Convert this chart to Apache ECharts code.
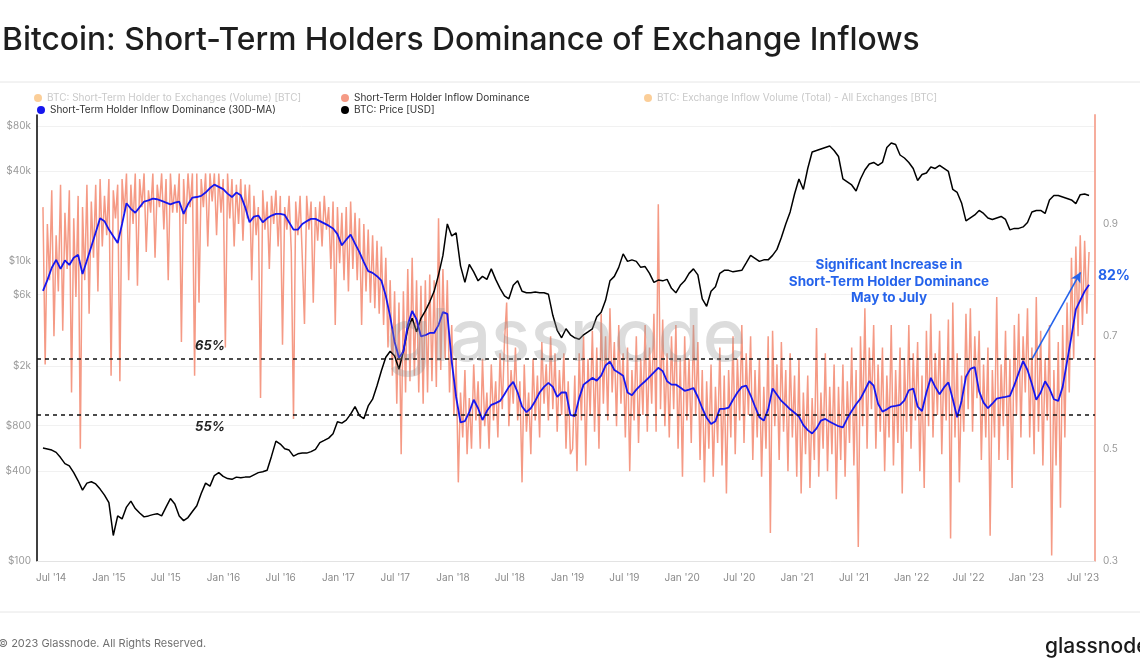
<!DOCTYPE html>
<html><head><meta charset="utf-8">
<script src="https://cdn.jsdelivr.net/npm/echarts@6/dist/echarts.min.js"></script>
<style>html,body{margin:0;padding:0;background:#fff}#c{width:1140px;height:671px}</style>
</head><body><div id="c"></div>
<script>
// ---------- DATA ----------
const startDate = '2014-06-05';      // first observation
const priceStepDays = 14;            // BTC price & 30D-MA sampling
const domStepDays = 7;               // raw dominance sampling

const priceUSD = [
568,560,550,531,490,447,431,389,343,297,
331,338,327,302,275,245,148,200,191,229,
251,224,209,197,200,204,207,200,229,261,
240,200,186,195,214,234,282,331,316,372,
389,367,355,351,363,359,363,363,376,389,
394,403,501,631,603,562,550,501,519,525,
525,537,556,617,638,661,708,851,832,871,
955,1072,933,891,1084,1202,1479,1862,2291,2512,
2344,1905,2512,3548,4169,3388,4169,4677,5370,6310,
8128,10965,17783,14791,15488,9333,7244,9550,8511,7413,
7943,7586,8913,7586,6607,5888,5623,6918,7413,6310,
6166,6166,6237,6166,6166,6026,4365,3467,3090,3548,
3236,3090,3020,3236,3388,3548,4266,4571,5495,7413,
7943,9120,11220,10000,10233,10000,9120,9226,8318,7244,
7499,7413,7586,6607,6166,6918,7413,8318,8913,8128,
5623,5012,6310,6761,8318,8710,8710,8511,8610,8710,
9772,10965,10471,10000,10233,10233,10965,12023,14454,17783,
21380,28184,35481,30200,41687,53703,54954,56234,57544,58884,
54954,50119,35481,33884,32359,29512,35481,40738,44668,45709,
43652,45709,57544,61660,60256,51286,48978,45709,41687,34674,
38019,38905,42658,41687,43652,41687,39811,30200,28840,24547,
18621,19498,20417,21878,20893,19498,19055,19498,19953,19055,
16218,16596,16596,16982,18197,21380,21878,21878,20893,25704,
27542,27542,26915,26303,25704,24266,27861,28184,27542
];

const sthDominance30d = [
0.781,0.80,0.822,0.836,0.82,0.835,0.827,0.84,0.845,0.811,
0.835,0.86,0.885,0.91,0.905,0.89,0.878,0.866,0.90,0.937,
0.927,0.92,0.93,0.94,0.942,0.945,0.944,0.941,0.938,0.935,
0.938,0.94,0.918,0.935,0.947,0.948,0.95,0.956,0.964,0.97,
0.966,0.962,0.954,0.948,0.956,0.951,0.93,0.903,0.913,0.915,
0.903,0.91,0.915,0.918,0.918,0.916,0.903,0.89,0.89,0.90,
0.905,0.909,0.909,0.905,0.901,0.897,0.892,0.882,0.862,0.872,
0.881,0.865,0.85,0.832,0.816,0.813,0.807,0.799,0.772,0.735,
0.69,0.662,0.673,0.72,0.745,0.73,0.70,0.702,0.706,0.706,
0.72,0.743,0.74,0.655,0.592,0.547,0.549,0.565,0.587,0.572,
0.551,0.567,0.578,0.581,0.585,0.597,0.61,0.619,0.60,0.575,
0.565,0.572,0.585,0.60,0.61,0.617,0.61,0.592,0.60,0.60,
0.56,0.558,0.59,0.614,0.62,0.626,0.621,0.63,0.648,0.655,
0.64,0.635,0.63,0.60,0.595,0.605,0.613,0.62,0.628,0.636,
0.644,0.638,0.62,0.614,0.614,0.609,0.603,0.605,0.608,0.592,
0.572,0.555,0.544,0.549,0.571,0.571,0.573,0.587,0.60,0.61,
0.612,0.595,0.575,0.556,0.55,0.57,0.607,0.596,0.585,0.578,
0.57,0.564,0.557,0.542,0.533,0.527,0.536,0.55,0.553,0.548,
0.544,0.54,0.538,0.554,0.567,0.579,0.589,0.604,0.62,0.612,
0.58,0.566,0.57,0.575,0.576,0.578,0.586,0.604,0.607,0.575,
0.567,0.60,0.626,0.61,0.597,0.609,0.618,0.588,0.556,0.585,
0.628,0.642,0.645,0.602,0.582,0.572,0.58,0.589,0.591,0.592,
0.594,0.613,0.635,0.656,0.64,0.615,0.587,0.60,0.62,0.607,
0.588,0.585,0.61,0.655,0.70,0.748,0.764,0.78,0.792
];

const sthDominance = [
0.93,0.65,0.90,0.80,0.96,0.70,0.88,0.78,0.97,0.71,
0.92,0.82,0.96,0.60,0.91,0.77,0.95,0.50,0.93,0.80,
0.97,0.74,0.94,0.84,0.97,0.78,0.98,0.86,0.95,0.88,
0.98,0.63,0.96,0.91,0.97,0.62,0.98,0.92,0.99,0.80,
0.97,0.90,0.99,0.79,0.98,0.93,0.99,0.85,0.96,0.92,
0.99,0.84,0.97,0.93,0.99,0.89,0.98,0.80,0.99,0.92,
0.97,0.92,0.99,0.69,0.98,0.90,0.99,0.93,0.99,0.63,
0.99,0.76,0.98,0.93,0.99,0.86,0.99,0.94,0.99,0.88,
0.99,0.92,0.98,0.68,0.99,0.91,0.98,0.86,0.97,0.90,
0.98,0.87,0.97,0.91,0.97,0.80,
0.95,0.88,0.93,0.59,0.96,0.89,0.94,0.82,0.95,0.90,
0.96,0.86,0.95,0.685,0.93,0.89,0.95,0.85,0.553,0.94,
0.88,0.95,0.84,0.722,0.95,0.89,0.94,0.76,0.93,0.87,
0.94,0.86,0.95,0.89,0.93,
0.82,0.94,0.72,0.93,0.83,0.92,0.80,0.93,0.78,0.94,
0.82,0.92,0.80,0.91,0.72,0.90,0.78,0.89,0.76,0.88,
0.75,0.87,0.74,0.86,0.72,0.84,0.68,0.80,0.63,0.78,
0.58,0.76,0.49,0.78,0.60,0.82,0.62,0.84,0.63,0.80,
0.60,0.79,0.58,0.80,0.60,0.81,0.62,0.80,0.61,0.91,
0.64,0.82,0.66,0.80,0.60,
0.72,0.56,0.66,0.44,0.60,0.52,0.64,0.49,0.59,0.50,
0.65,0.55,0.62,0.50,0.66,0.54,0.60,0.50,0.65,0.55,
0.62,0.52,0.67,0.57,0.69,0.76,0.54,0.64,0.58,0.68,
0.55,0.62,0.44,0.65,0.53,0.60,0.49,0.66,0.55,0.63,
0.52,0.69,0.58,0.65,0.55,0.70,0.57,0.67,0.53,0.64,
0.56,0.67,0.50,0.62,0.49,
0.50,0.63,0.46,0.67,0.55,0.70,0.47,0.66,0.56,0.71,
0.53,0.68,0.50,0.74,0.58,0.70,0.55,0.75,0.60,0.69,
0.54,0.72,0.58,0.67,0.52,0.68,0.46,0.64,0.55,0.70,
0.51,0.66,0.56,0.72,0.53,0.68,0.58,0.74,0.53,0.935,
0.57,0.73,0.54,0.67,0.52,0.70,0.57,0.72,0.50,0.66,
0.45,0.70,0.55,0.66,0.51,0.72,0.56,0.69,0.48,0.64,
0.44,0.62,0.50,0.65,0.45,0.61,0.51,0.68,0.47,0.63,
0.42,0.64,0.52,0.70,0.49,0.66,0.55,0.72,0.51,0.67,
0.56,0.70,0.48,0.64,0.52,0.66,0.45,0.61,0.50,0.70,
0.35,0.71,0.54,0.65,0.48,0.69,0.53,0.64,0.46,0.67,
0.52,0.63,0.45,0.66,0.42,0.60,0.49,0.63,0.43,0.59,
0.48,0.715,0.45,0.60,0.50,0.67,0.46,0.61,0.49,0.65,
0.41,0.61,0.48,0.65,0.45,0.62,0.51,0.68,0.47,0.64,
0.325,0.70,0.54,0.75,0.50,0.68,0.57,0.72,0.50,0.65,
0.53,0.68,0.46,0.63,0.52,0.72,0.47,0.64,0.51,0.68,
0.42,0.66,0.53,0.72,0.50,0.67,0.55,0.69,0.46,0.63,
0.43,0.71,0.54,0.74,0.52,0.67,0.56,0.71,0.49,0.66,
0.55,0.73,0.34,0.76,0.52,0.67,0.44,0.63,0.53,0.74,
0.57,0.75,0.53,0.70,0.59,0.71,0.48,0.65,0.52,0.68,
0.345,0.64,0.52,0.77,0.48,0.65,0.54,0.71,0.48,0.66,
0.43,0.72,0.56,0.74,0.52,0.70,0.60,0.75,0.52,0.68,
0.49,0.77,0.53,0.71,0.47,0.66,0.55,0.72,0.31,0.64,
0.47,0.69,0.395,0.72,0.52,0.76,0.60,0.84,0.66,0.86,
0.70,0.88,0.72,0.87,0.74,0.85
];

const priceTicks = [100, 400, 800, 2000, 6000, 10000, 40000, 80000];
const dominanceTicks = [0.3, 0.5, 0.7, 0.9];
const dateTicks = ['2014-07-01','2015-01-01','2015-07-01','2016-01-01','2016-07-01','2017-01-01',
  '2017-07-01','2018-01-01','2018-07-01','2019-01-01','2019-07-01','2020-01-01','2020-07-01',
  '2021-01-01','2021-07-01','2022-01-01','2022-07-01','2023-01-01','2023-07-01'];
const refLevels = [0.659, 0.562];                       // "65%" and "55%" dashed guides
const arrowFrom = ['2023-01-21', 0.661], arrowTo = ['2023-06-23', 0.814];

// ---------- BUILD ----------
const DAY = 86400000;
const ts = s => Date.parse(s + 'T00:00:00Z');
const t0 = ts(startDate);
const priceData = priceUSD.map((p, k) => [t0 + k * priceStepDays * DAY, Math.log10(p)]);
const maData = sthDominance30d.map((v, k) => [t0 + k * priceStepDays * DAY, v]);
const domData = sthDominance.map((v, i) => [t0 + i * domStepDays * DAY, v]);

const FONT = 'Inter, "Noto Sans", sans-serif';
const N1 = 'BTC: Short-Term Holder to Exchanges (Volume) [BTC]';
const N2 = 'Short-Term Holder Inflow Dominance';
const N3 = 'BTC: Exchange Inflow Volume (Total) - All Exchanges [BTC]';
const N4 = 'Short-Term Holder Inflow Dominance (30D-MA)';
const N5 = 'BTC: Price [USD]';
const SALMON = '#f59a85', BLUE = '#1616ee', ORANGE = '#f7931a', NOTE = '#2563eb';

function fmtPrice(v) {
  const p = Math.round(Math.pow(10, v));
  return '$' + (p >= 1000 ? (p / 1000) + 'k' : p);
}
function fmtDate(v) {
  const d = new Date(v);
  return (d.getUTCMonth() === 0 ? 'Jan' : 'Jul') + " '" + String(d.getUTCFullYear()).slice(2);
}
const legendBase = {
  icon: 'circle', itemWidth: 8, itemHeight: 8, itemGap: 10, selectedMode: false,
  orient: 'horizontal', padding: 0,
  textStyle: { fontSize: 10, color: '#333', fontFamily: FONT }
};
const faded = { textStyle: { color: '#c9c9c9' }, itemStyle: { opacity: 0.45 } };

const chart = echarts.init(document.getElementById('c'), null, { renderer: 'canvas' });
chart.setOption({
  animation: false,
  backgroundColor: '#fff',
  title: {
    text: 'Bitcoin: Short-Term Holders Dominance of Exchange Inflows',
    left: -3, top: 19,
    textStyle: { fontSize: 31.8, fontWeight: 500, color: '#1e1e1e', fontFamily: FONT }
  },
  legend: [
    Object.assign({}, legendBase, { left: 34, top: 93, data: [Object.assign({ name: N1 }, faded)] }),
    Object.assign({}, legendBase, { left: 341, top: 93, data: [N2] }),
    Object.assign({}, legendBase, { left: 644, top: 93, data: [Object.assign({ name: N3 }, faded)] }),
    Object.assign({}, legendBase, { left: 37, top: 105, data: [N4] }),
    Object.assign({}, legendBase, { left: 341, top: 105, data: [N5] })
  ],
  grid: { left: 37, right: 45, top: 115, bottom: 110, containLabel: false },
  xAxis: {
    type: 'value',
    min: ts('2014-05-17'), max: ts('2023-08-08'),
    axisLine: { show: true, lineStyle: { color: '#e3e3e3', width: 1 } },
    axisTick: { show: false, customValues: dateTicks.map(ts) },
    splitLine: { show: false },
    axisLabel: {
      customValues: dateTicks.map(ts), formatter: fmtDate,
      color: '#8a8a8a', fontSize: 10, fontFamily: FONT, margin: 12, hideOverlap: false
    }
  },
  yAxis: [
    {
      type: 'value', position: 'left',
      min: 2, max: 4.977,
      axisLine: { show: true, lineStyle: { color: '#000', width: 1.5 } },
      axisTick: { show: false, customValues: priceTicks.map(Math.log10) },
      splitLine: { show: true, lineStyle: { color: '#f1f1f1', width: 1 } },
      axisLabel: {
        customValues: priceTicks.map(Math.log10), formatter: fmtPrice,
        color: '#9a9a9a', fontSize: 10, fontFamily: FONT, margin: 6
      }
    },
    {
      type: 'value', position: 'right',
      min: 0.3, max: 1.094,
      axisLine: { show: true, lineStyle: { color: '#f6ad9d', width: 2 } },
      axisTick: { show: false, customValues: dominanceTicks },
      splitLine: { show: false },
      axisLabel: {
        customValues: dominanceTicks, formatter: v => String(Math.round(v * 10) / 10),
        color: '#9a9a9a', fontSize: 10, fontFamily: FONT, margin: 8
      }
    }
  ],
  series: [
    { name: N1, type: 'line', yAxisIndex: 1, data: [], color: ORANGE, showSymbol: false },
    {
      name: N2, type: 'line', yAxisIndex: 1, data: domData, color: SALMON,
      showSymbol: false, symbol: 'none', lineStyle: { width: 1.5, color: SALMON }, z: 2,
      markLine: {
        silent: true, symbol: ['none', 'none'], label: { show: false },
        lineStyle: { color: '#111', width: 1.6, type: [4, 4] },
        data: refLevels.map(v => ({ yAxis: v }))
      }
    },
    { name: N3, type: 'line', yAxisIndex: 1, data: [], color: ORANGE, showSymbol: false },
    {
      name: N4, type: 'line', yAxisIndex: 1, data: maData, color: BLUE,
      showSymbol: false, symbol: 'none', lineStyle: { width: 1.8, color: BLUE }, z: 4,
      markLine: {
        silent: true, symbol: ['none', 'arrow'], symbolSize: [8, 10], label: { show: false },
        lineStyle: { color: NOTE, width: 1.6, type: 'solid' },
        data: [[{ coord: [ts(arrowFrom[0]), arrowFrom[1]] }, { coord: [ts(arrowTo[0]), arrowTo[1]] }]]
      }
    },
    {
      name: N5, type: 'line', yAxisIndex: 0, data: priceData, color: '#000',
      showSymbol: false, symbol: 'none', lineStyle: { width: 1.5, color: '#000' }, z: 3
    }
  ],
  graphic: [
    { type: 'line', shape: { x1: 0, y1: 82, x2: 1140, y2: 82 }, style: { stroke: '#e6e6e6', lineWidth: 1 }, silent: true },
    { type: 'line', shape: { x1: 0, y1: 612, x2: 1140, y2: 612 }, style: { stroke: '#e6e6e6', lineWidth: 1 }, silent: true },
    { type: 'text', left: 386, top: 303, z: 50, silent: true,
      style: { text: 'glassnode', fontSize: 73, fontWeight: 500, fontFamily: FONT, fill: 'rgba(150,150,150,0.33)' } },
    { type: 'text', x: 210, y: 346, z: 100, silent: true,
      style: { text: '65%', align: 'center', verticalAlign: 'middle', fontSize: 13, fontStyle: 'italic', fontWeight: 'bold', fontFamily: FONT, fill: '#222' } },
    { type: 'text', x: 210, y: 427, z: 100, silent: true,
      style: { text: '55%', align: 'center', verticalAlign: 'middle', fontSize: 13, fontStyle: 'italic', fontWeight: 'bold', fontFamily: FONT, fill: '#222' } },
    { type: 'text', x: 889, y: 281.5, z: 100, silent: true,
      style: { text: 'Significant Increase in\nShort-Term Holder Dominance\nMay to July', align: 'center', verticalAlign: 'middle',
        lineHeight: 16.5, fontSize: 13.5, fontWeight: 'bold', fontFamily: FONT, fill: NOTE } },
    { type: 'text', x: 1114, y: 276, z: 100, silent: true,
      style: { text: '82%', align: 'center', verticalAlign: 'middle', fontSize: 14, fontWeight: 'bold', fontFamily: FONT, fill: NOTE } },
    { type: 'text', x: -2, y: 644, silent: true,
      style: { text: '\u00a9 2023 Glassnode. All Rights Reserved.', verticalAlign: 'middle', fontSize: 11, fontFamily: FONT, fill: '#707070' } },
    { type: 'text', x: 1045, y: 647, silent: true,
      style: { text: 'glassnode', verticalAlign: 'middle', fontSize: 21, fontWeight: 500, fontFamily: FONT, fill: '#1a1a1a' } }
  ]
});
</script></body></html>
